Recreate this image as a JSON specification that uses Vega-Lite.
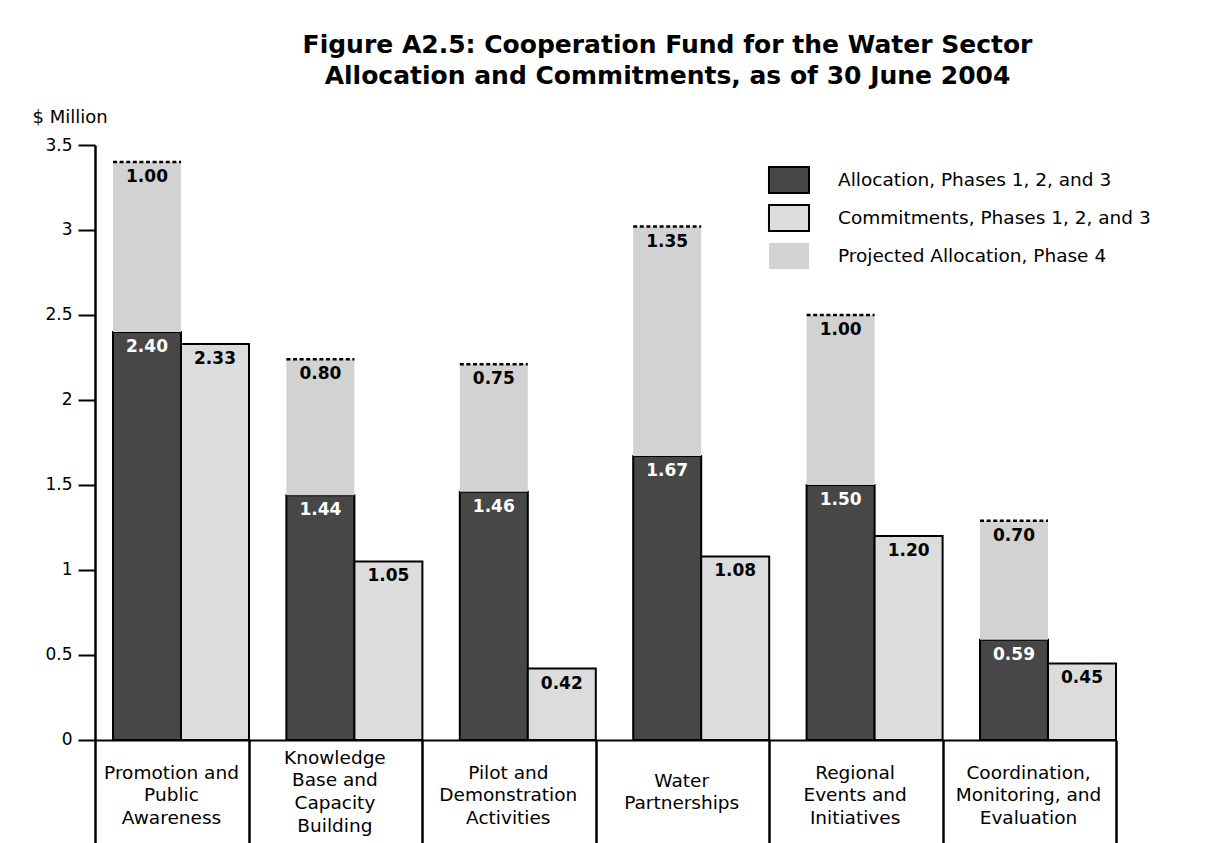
{
  "$schema": "https://vega.github.io/schema/vega-lite/v6.json",
  "width": 1021,
  "height": 698,
  "autosize": "none",
  "padding": {"left": 95, "top": 145, "right": 98, "bottom": 0},
  "background": "white",
  "title": {
    "text": ["Figure A2.5: Cooperation Fund for the Water Sector", "Allocation and Commitments, as of 30 June 2004"],
    "font": "DejaVu Sans",
    "fontSize": 25,
    "fontWeight": "bold",
    "lineHeight": 31,
    "anchor": "middle",
    "dx": 62,
    "dy": -15,
    "color": "black"
  },
  "config": {"view": {"stroke": null}, "font": "DejaVu Sans"},
  "data": {
    "values": [
      {"category": "Promotion and|Public|Awareness", "series": "Allocation, Phases 1, 2, and 3", "bar": "Allocation", "base": 0, "top": 2.40, "value": 2.40},
      {"category": "Promotion and|Public|Awareness", "series": "Commitments, Phases 1, 2, and 3", "bar": "Commitments", "base": 0, "top": 2.33, "value": 2.33},
      {"category": "Promotion and|Public|Awareness", "series": "Projected Allocation, Phase 4", "bar": "Allocation", "base": 2.40, "top": 3.40, "value": 1.00},
      {"category": "Knowledge|Base and|Capacity|Building", "series": "Allocation, Phases 1, 2, and 3", "bar": "Allocation", "base": 0, "top": 1.44, "value": 1.44},
      {"category": "Knowledge|Base and|Capacity|Building", "series": "Commitments, Phases 1, 2, and 3", "bar": "Commitments", "base": 0, "top": 1.05, "value": 1.05},
      {"category": "Knowledge|Base and|Capacity|Building", "series": "Projected Allocation, Phase 4", "bar": "Allocation", "base": 1.44, "top": 2.24, "value": 0.80},
      {"category": "Pilot and|Demonstration|Activities", "series": "Allocation, Phases 1, 2, and 3", "bar": "Allocation", "base": 0, "top": 1.46, "value": 1.46},
      {"category": "Pilot and|Demonstration|Activities", "series": "Commitments, Phases 1, 2, and 3", "bar": "Commitments", "base": 0, "top": 0.42, "value": 0.42},
      {"category": "Pilot and|Demonstration|Activities", "series": "Projected Allocation, Phase 4", "bar": "Allocation", "base": 1.46, "top": 2.21, "value": 0.75},
      {"category": "Water|Partnerships", "series": "Allocation, Phases 1, 2, and 3", "bar": "Allocation", "base": 0, "top": 1.67, "value": 1.67},
      {"category": "Water|Partnerships", "series": "Commitments, Phases 1, 2, and 3", "bar": "Commitments", "base": 0, "top": 1.08, "value": 1.08},
      {"category": "Water|Partnerships", "series": "Projected Allocation, Phase 4", "bar": "Allocation", "base": 1.67, "top": 3.02, "value": 1.35},
      {"category": "Regional|Events and|Initiatives", "series": "Allocation, Phases 1, 2, and 3", "bar": "Allocation", "base": 0, "top": 1.50, "value": 1.50},
      {"category": "Regional|Events and|Initiatives", "series": "Commitments, Phases 1, 2, and 3", "bar": "Commitments", "base": 0, "top": 1.20, "value": 1.20},
      {"category": "Regional|Events and|Initiatives", "series": "Projected Allocation, Phase 4", "bar": "Allocation", "base": 1.50, "top": 2.50, "value": 1.00},
      {"category": "Coordination,|Monitoring, and|Evaluation", "series": "Allocation, Phases 1, 2, and 3", "bar": "Allocation", "base": 0, "top": 0.59, "value": 0.59},
      {"category": "Coordination,|Monitoring, and|Evaluation", "series": "Commitments, Phases 1, 2, and 3", "bar": "Commitments", "base": 0, "top": 0.45, "value": 0.45},
      {"category": "Coordination,|Monitoring, and|Evaluation", "series": "Projected Allocation, Phase 4", "bar": "Allocation", "base": 0.59, "top": 1.29, "value": 0.70}
    ]
  },
  "encoding": {
    "x": {
      "field": "category",
      "type": "nominal",
      "sort": null,
      "scale": {"paddingInner": 0.2157, "paddingOuter": 0.0519, "align": 1},
      "axis": {
        "orient": "bottom",
        "offset": -103,
        "title": null,
        "labelAngle": 0,
        "labelExpr": "split(datum.label, '|')",
        "labelAlign": "center",
        "labelBaseline": "middle",
        "labelPadding": {
          "condition": [
            {"test": "length(split(datum.label, '|')) == 4", "value": -86},
            {"test": "length(split(datum.label, '|')) == 2", "value": -63}
          ],
          "value": -71
        },
        "labelOffset": {
          "condition": {"test": "datum.value === 'Promotion and|Public|Awareness'", "value": -78},
          "value": -88
        },
        "tickOffset": 68,
        "tickSize": 103,
        "tickWidth": 2.5,
        "tickColor": "black",
        "domainColor": "black",
        "domainWidth": 2,
        "labelFont": "DejaVu Sans",
        "labelFontSize": 18.5,
        "labelLineHeight": 22.7,
        "labelColor": "black",
        "labelLimit": 300,
        "grid": false
      }
    },
    "xOffset": {
      "field": "bar",
      "type": "nominal",
      "sort": ["Allocation", "Commitments"],
      "scale": {"paddingInner": 0, "paddingOuter": 0}
    },
    "y": {
      "field": "top",
      "type": "quantitative",
      "scale": {"domain": [-0.606, 3.5], "nice": false, "zero": false},
      "axis": {
        "values": [0, 0.5, 1, 1.5, 2, 2.5, 3, 3.5],
        "format": "~g",
        "grid": false,
        "domainColor": "black",
        "domainWidth": 2.5,
        "tickColor": "black",
        "tickWidth": 2,
        "tickSize": 17,
        "labelPadding": 6,
        "labelFont": "DejaVu Sans",
        "labelFontSize": 17,
        "labelColor": "black",
        "title": "$ Million",
        "titleAngle": 0,
        "titleAlign": "left",
        "titleBaseline": "alphabetic",
        "titleX": -63,
        "titleY": -23,
        "titleFont": "DejaVu Sans",
        "titleFontSize": 18,
        "titleFontWeight": "normal",
        "titleColor": "black"
      }
    }
  },
  "layer": [
    {
      "mark": {"type": "bar", "strokeWidth": 2},
      "encoding": {
        "y2": {"field": "base"},
        "fill": {
          "field": "series",
          "type": "nominal",
          "scale": {
            "domain": ["Allocation, Phases 1, 2, and 3", "Commitments, Phases 1, 2, and 3", "Projected Allocation, Phase 4"],
            "range": ["#474747", "#dcdcdc", "#d2d2d2"]
          },
          "legend": {
            "title": null,
            "orient": "none",
            "legendX": 680,
            "legendY": 21,
            "padding": 0,
            "symbolType": "M-1.54,-1H1.54V1H-1.54Z",
            "symbolSize": 676,
            "symbolStrokeWidth": 2,
            "symbolOpacity": 1,
            "rowPadding": 4,
            "labelOffset": 35,
            "labelFont": "DejaVu Sans",
            "labelFontSize": 18.5,
            "labelColor": "black",
            "labelLimit": 400
          }
        },
        "stroke": {
          "field": "series",
          "type": "nominal",
          "scale": {
            "domain": ["Allocation, Phases 1, 2, and 3", "Commitments, Phases 1, 2, and 3", "Projected Allocation, Phase 4"],
            "range": ["#000000", "#000000", "transparent"]
          },
          "legend": {
            "title": null,
            "orient": "none",
            "legendX": 680,
            "legendY": 21,
            "padding": 0,
            "symbolType": "M-1.54,-1H1.54V1H-1.54Z",
            "symbolSize": 676,
            "symbolStrokeWidth": 2,
            "symbolOpacity": 1,
            "rowPadding": 4,
            "labelOffset": 35,
            "labelFont": "DejaVu Sans",
            "labelFontSize": 18.5,
            "labelColor": "black",
            "labelLimit": 400
          }
        }
      }
    },
    {
      "transform": [{"filter": "datum.series === 'Projected Allocation, Phase 4'"}],
      "mark": {"type": "bar", "fill": null, "stroke": "black", "strokeWidth": 2.5, "strokeDash": [4, 2.6]},
      "encoding": {"y2": {"field": "top"}}
    },
    {
      "mark": {"type": "text", "baseline": "alphabetic", "dy": 20, "font": "DejaVu Sans", "fontSize": 17, "fontWeight": "bold"},
      "encoding": {
        "text": {"field": "value", "type": "quantitative", "format": ".2f"},
        "color": {
          "condition": {"test": "datum.series === 'Allocation, Phases 1, 2, and 3'", "value": "white"},
          "value": "black"
        }
      }
    }
  ]
}
